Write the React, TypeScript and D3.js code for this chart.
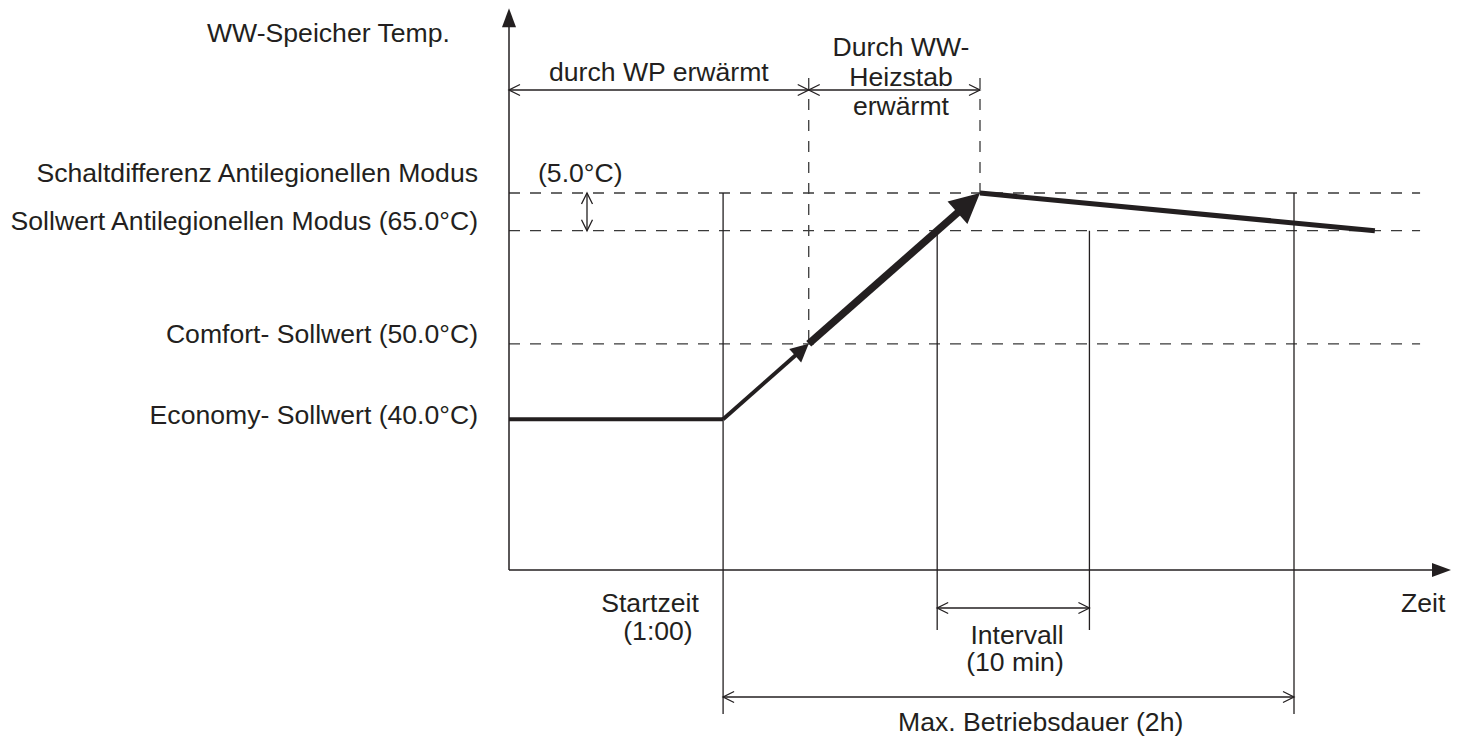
import React, { useEffect, useRef } from "react";
import * as d3 from "d3";

// ---- data (schematic values) ----
// time in minutes since 0:00, temperature in °C
const curveTimes = [15, 60, 78, 114, 197];
const curveTemps = [40, 40, 50, 70, 65];
const curveWidths = [4, 4, 7.5, 5];
const curveHeads = [0, 18, 30, 0];

const levelTemps = [70, 65, 50, 40];
const levelLabels = [
  "Schaltdifferenz Antilegionellen Modus",
  "Sollwert Antilegionellen Modus (65.0°C)",
  "Comfort- Sollwert (50.0°C)",
  "Economy- Sollwert (40.0°C)",
];
const levelLabelOffsets = [-11, -1, -1, 5];
const dashedLevels = [70, 65, 50];

const axisTimeRange = [15, 213];
const axisTempRange = [20, 94.5];
const dashedEndTime = 206.5;

const startTime = 60; // 1:00
const wpEndTime = 78;
const peakTime = 114;
const intervalTimes = [105, 137];
const maxEndTime = 180; // start + 2h

const yAxisTitle = "WW-Speicher Temp.";
const xAxisTitle = "Zeit";
const hysteresisLabel = "(5.0°C)";
const wpLabel = "durch WP erwärmt";
const heaterLabel = ["Durch WW-", "Heizstab", "erwärmt"];
const startLabel = ["Startzeit", "(1:00)"];
const intervalLabel = ["Intervall", "(10 min)"];
const maxLabel = "Max. Betriebsdauer (2h)";

const INK = "#231f20";
const FONT = "'Liberation Sans', Arial, Helvetica, sans-serif";
const FONT_SIZE = 26.6;

export default function App() {
  const ref = useRef<SVGSVGElement | null>(null);

  useEffect(() => {
    const svg = d3.select(ref.current);
    svg.selectAll("*").remove();

    const x = d3.scaleLinear().domain([15, 180]).range([509, 1294]);
    const y = d3.scaleLinear().domain([20, 70]).range([570, 193]);

    const g = svg.append("g");

    const filledHead = (tx: number, ty: number, fx: number, fy: number, len: number, half: number) => {
      const dx = tx - fx, dy = ty - fy;
      const L = Math.hypot(dx, dy);
      const ux = dx / L, uy = dy / L;
      const bx = tx - ux * len, by = ty - uy * len;
      const px = -uy, py = ux;
      g.append("path")
        .attr("d", `M${tx},${ty}L${bx + px * half},${by + py * half}L${bx - px * half},${by - py * half}Z`)
        .attr("fill", INK);
    };

    const chevron = (tx: number, ty: number, fx: number, fy: number) => {
      const dx = tx - fx, dy = ty - fy;
      const L = Math.hypot(dx, dy);
      const ux = dx / L, uy = dy / L;
      const len = 11, half = 5.5;
      const bx = tx - ux * len, by = ty - uy * len;
      const px = -uy, py = ux;
      g.append("path")
        .attr("d", `M${bx + px * half},${by + py * half}L${tx},${ty}L${bx - px * half},${by - py * half}`)
        .attr("fill", "none")
        .attr("stroke", INK)
        .attr("stroke-width", 1.3);
    };

    const dim = (x1: number, y1: number, x2: number, y2: number) => {
      g.append("line")
        .attr("x1", x1).attr("y1", y1).attr("x2", x2).attr("y2", y2)
        .attr("stroke", INK).attr("stroke-width", 1.3);
      chevron(x1, y1, x2, y2);
      chevron(x2, y2, x1, y1);
    };

    const thin = (x1: number, y1: number, x2: number, y2: number, dashed = false) => {
      const l = g.append("line")
        .attr("x1", x1).attr("y1", y1).attr("x2", x2).attr("y2", y2)
        .attr("stroke", dashed ? "#3a3a3a" : INK)
        .attr("stroke-width", 1.3);
      if (dashed) l.attr("stroke-dasharray", "11,10");
    };

    // dashed horizontal levels
    dashedLevels.forEach((t) => thin(x(axisTimeRange[0]), y(t), x(dashedEndTime), y(t), true));

    // dashed verticals (phase boundaries)
    thin(x(wpEndTime), 78, x(wpEndTime), y(50), true);
    thin(x(peakTime), 78, x(peakTime), y(70), true);

    // solid verticals
    thin(x(startTime), y(70), x(startTime), 714);
    thin(x(intervalTimes[0]), y(65), x(intervalTimes[0]), 630);
    thin(x(intervalTimes[1]), y(65), x(intervalTimes[1]), 630);
    thin(x(maxEndTime), y(70), x(maxEndTime), 714);

    // axes
    const ax0 = x(axisTimeRange[0]);
    const ay0 = y(axisTempRange[0]);
    const axEnd = x(axisTimeRange[1]);
    const ayEnd = y(axisTempRange[1]);
    g.append("line").attr("x1", ax0).attr("y1", ay0).attr("x2", ax0).attr("y2", ayEnd + 16)
      .attr("stroke", INK).attr("stroke-width", 1.5);
    filledHead(ax0, ayEnd, ax0, ay0, 19, 7);
    g.append("line").attr("x1", ax0).attr("y1", ay0).attr("x2", axEnd - 16).attr("y2", ay0)
      .attr("stroke", INK).attr("stroke-width", 1.5);
    filledHead(axEnd, ay0, ax0, ay0, 19, 7);

    // dimension arrows
    dim(x(axisTimeRange[0]), 90, x(wpEndTime), 90);
    dim(x(wpEndTime), 90, x(peakTime), 90);
    dim(587, y(70), 587, y(65));
    dim(x(intervalTimes[0]), 608, x(intervalTimes[1]), 608);
    dim(x(startTime), 697, x(maxEndTime), 697);

    // temperature curve
    for (let i = 0; i < curveTimes.length - 1; i++) {
      const x1 = x(curveTimes[i]), y1 = y(curveTemps[i]);
      const x2 = x(curveTimes[i + 1]), y2 = y(curveTemps[i + 1]);
      const head = curveHeads[i];
      let ex = x2, ey = y2;
      if (head > 0) {
        const L = Math.hypot(x2 - x1, y2 - y1);
        const k = (head - 2) / L;
        ex = x2 - (x2 - x1) * k;
        ey = y2 - (y2 - y1) * k;
      }
      g.append("path")
        .attr("d", d3.line()([[x1, y1], [ex, ey]]) as string)
        .attr("fill", "none")
        .attr("stroke", INK)
        .attr("stroke-width", curveWidths[i])
        .attr("stroke-linecap", "butt");
      if (head > 0) filledHead(x2, y2, x1, y1, head, head * 0.5);
    }

    // texts
    const text = (s: string, tx: number, ty: number, anchor: string) =>
      g.append("text")
        .attr("x", tx).attr("y", ty)
        .attr("text-anchor", anchor)
        .attr("font-family", FONT)
        .attr("font-size", FONT_SIZE)
        .attr("fill", INK)
        .text(s);

    text(yAxisTitle, 207, 42, "start");
    levelLabels.forEach((s, i) => text(s, 478, y(levelTemps[i]) + levelLabelOffsets[i], "end"));
    text(hysteresisLabel, 538, y(70) - 11, "start");
    text(wpLabel, (x(axisTimeRange[0]) + x(wpEndTime)) / 2, 81, "middle");
    heaterLabel.forEach((s, i) => text(s, 901, 56 + i * 29.5, "middle"));
    text(startLabel[0], 650, 612, "middle");
    text(startLabel[1], 658, 640, "middle");
    text(xAxisTitle, 1401, 612, "start");
    text(intervalLabel[0], 1017, 644, "middle");
    text(intervalLabel[1], 1015, 671, "middle");
    text(maxLabel, 898, 731, "start");
  }, []);

  return (
    <svg
      ref={ref}
      width={1460}
      height={738}
      style={{ position: "absolute", left: 0, top: 0, background: "#fff" }}
    />
  );
}
